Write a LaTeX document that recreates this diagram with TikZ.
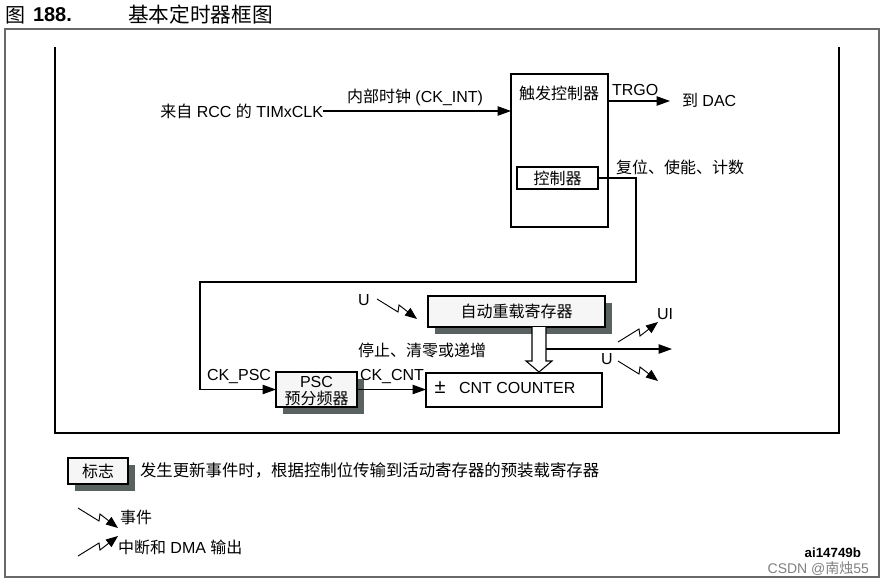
\documentclass[tikz,border=0pt]{standalone}
\usepackage{fontspec}
\setmainfont{Liberation Sans}
\newfontfamily\cjk{Noto Sans CJK SC}
\usetikzlibrary{arrows.meta,shadows}
\definecolor{shad}{RGB}{90,97,97}
\definecolor{boxfill}{RGB}{246,246,246}
\definecolor{framec}{RGB}{105,105,105}
\begin{document}
\begin{tikzpicture}[x=0.75pt,y=-0.75pt,
  font=\fontsize{12}{14}\selectfont,
  every node/.style={inner sep=0pt, outer sep=0pt},
  blk/.style={draw, line width=2pt},
  sz/.style 2 args={minimum width=#1*0.75pt, minimum height=#2*0.75pt},
  shbox/.style={blk, fill=boxfill, drop shadow={shadow xshift=5pt, shadow yshift=-5pt, fill=shad, opacity=1}},
  conn/.style={line width=0.8pt},
  arr/.style={conn, -{Triangle[length=10pt,width=7pt]}},
  evtdn/.pic={\draw[line width=0.7pt, -{Triangle[length=9pt,width=7pt]}] (0,0) -- (21,13) -- (22,6) -- (40,20);},
  evtup/.pic={\draw[line width=0.7pt, -{Triangle[length=9pt,width=7pt]}] (0,0) -- (21,-13) -- (22,-6) -- (40,-20);}
]
\useasboundingbox (0,0) rectangle (884,583);
\fill[white] (0,0) rectangle (884,583);

% title
\node (fig) at (15,15) {\cjk\fontsize{15}{15}\selectfont 图};
\node[anchor=west] (num) at (33,15) {\fontsize{15}{15}\selectfont\bfseries 188.};
\node[anchor=west] (ttl) at (128,15) {\cjk\fontsize{15.5}{16}\selectfont 基本定时器框图};

% frames
\draw[framec, line width=1.2pt] (5,29) rectangle (879,577);
\draw[line width=2pt] (55,47) -- (55,433) -- (839,433) -- (839,47);

% trigger controller
\node[blk, sz={97}{153}] (trig) at (559.5,150.5) {};
\node (trigl) at (559,93) {\cjk 触发控制器};
\node[blk, sz={81}{22}] (ctrl) at (557.5,178) {\cjk 控制器};

% clock input
\node[anchor=east] (clk) at (323,111) {{\cjk 来自} RCC {\cjk 的} TIMxCLK};
\draw[arr] (clk.east) -- (clk.east -| trig.west);
\node (ckint) at (415,97) {{\cjk 内部时钟} (CK\_INT)};

% TRGO
\coordinate (dac) at (670,101);
\draw[arr] (trig.east |- dac) -- (dac);
\node[anchor=west] (trgo) at (612,90) {TRGO};
\node[anchor=west] (dact) at (682,100) {{\cjk 到} DAC};
\node[anchor=west] (rst) at (616,167) {\cjk 复位、使能、计数};

% PSC
\node[shbox, sz={81}{35}] (psc) at (316.5,389.5) {};
\node (psct) at (316.5,382) {PSC};
\node (pscc) at (316.5,398) {\cjk 预分频器};

\coordinate (r1) at (636,282);
\coordinate (r2) at (200,282);
\draw[arr] (ctrl.east) -| (r1) -- (r2) |- (psc.west);
\node[anchor=west] (ckpsc) at (207,376) {CK\_PSC};

% counter
\node[blk, sz={176}{34}] (cnt) at (514,390) {};
\node (pm) at (440,388) {\fontsize{15}{15}\selectfont ±};
\node[anchor=west] (cntt) at (459,388) {CNT COUNTER};
\draw[arr] (psc.east) -- (psc.east -| cnt.west);
\node[anchor=west] (ckcnt) at (360,376) {CK\_CNT};

% auto reload
\node[shbox, sz={177}{31}] (arl) at (516.5,311.5) {\cjk 自动重载寄存器};
\draw[conn, fill=white] (532,327) -- (532,361) -- (526,361) -- (539,372) -- (552,361) -- (546,361) -- (546,327);
\coordinate (uo) at (672,349);
\draw[arr] (546,349) -- (uo);

\node (stop) at (422,350) {\cjk 停止、清零或递增};
\node (u1) at (364,300) {U};
\node (ui) at (665,314) {UI};
\node (u2) at (607,359) {U};

\pic at (377,299) {evtdn};
\pic at (618,342) {evtup};
\pic at (618,361) {evtdn};

% legend
\node[shbox, sz={60}{26}] (flag) at (98,471) {\cjk 标志};
\node[anchor=west] (flagt) at (140,470) {\cjk\fontsize{12.3}{14}\selectfont 发生更新事件时，根据控制位传输到活动寄存器的预装载寄存器};
\pic at (78,508) {evtdn};
\node[anchor=west] (evt) at (120,517) {\cjk 事件};
\pic at (78,556) {evtup};
\node[anchor=west] (dma) at (118,547) {{\cjk 中断和} DMA {\cjk 输出}};

\node[anchor=east] (ai) at (861,553) {\fontsize{10}{10}\selectfont\bfseries ai14749b};
\node[anchor=east, gray] (csdn) at (869,569) {\fontsize{10.5}{10}\selectfont CSDN @{\cjk 南烛}55};
\end{tikzpicture}
\end{document}
